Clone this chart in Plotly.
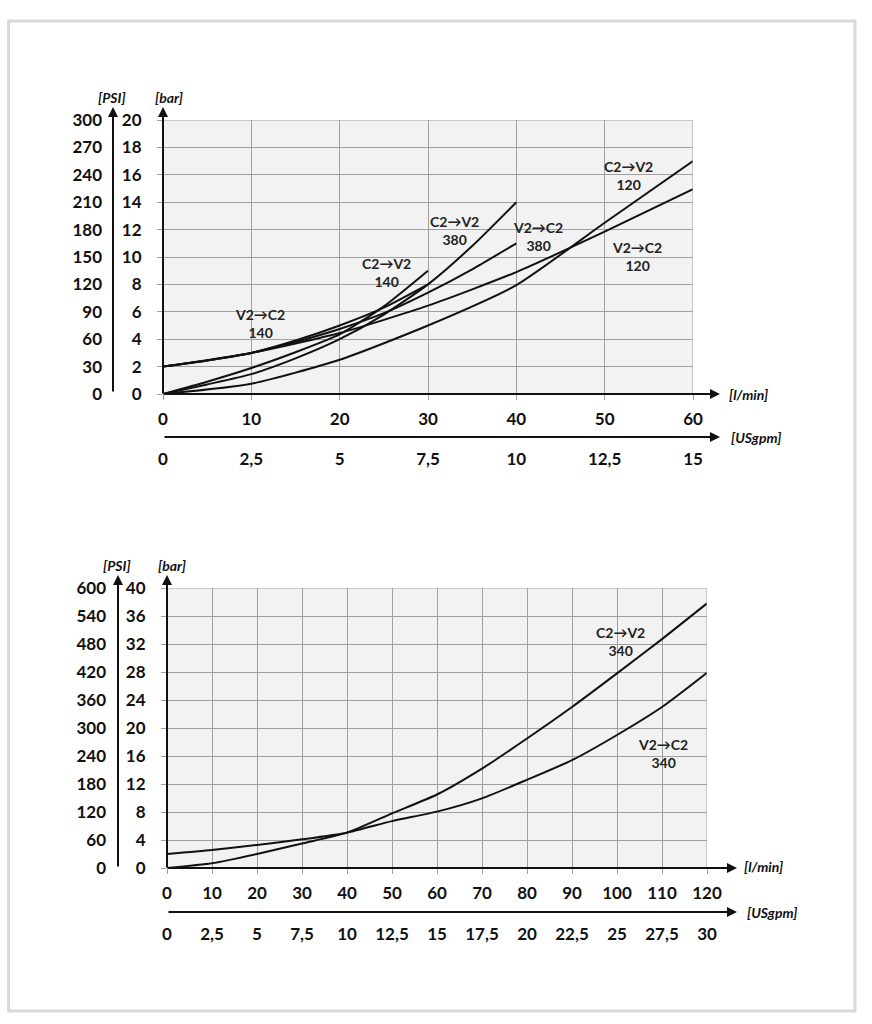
import plotly.graph_objects as go

W, H = 872, 1024

def px(x):
    return x / W

def py(y):
    return 1 - y / H

# ---- data: top chart (pressure drop in bar vs flow in l/min)
top_x5 = [0, 5, 10, 15, 20, 25, 30]
v2c2_140 = [2.0, 2.45, 3.0, 3.9, 5.0, 6.3, 8.0]
c2v2_140 = [0, 0.9, 1.9, 3.05, 4.35, 6.4, 9.0]

top_x40 = [0, 5, 10, 15, 20, 25, 30, 35, 40]
c2v2_380 = [0, 0.7, 1.45, 2.6, 4.0, 5.8, 8.0, 10.8, 14.0]
v2c2_380 = [2.0, 2.45, 3.0, 3.8, 4.75, 5.9, 7.4, 9.1, 11.0]

top_x60 = [0, 10, 20, 30, 40, 50, 60]
v2c2_120 = [2.0, 3.0, 4.45, 6.45, 8.9, 11.85, 14.95]
c2v2_120 = [0, 0.75, 2.5, 5.0, 7.95, 12.5, 17.0]

top_labels = [
    ("V2→C2<br>140", 11.0, 5.15),
    ("C2→V2<br>140", 25.3, 8.85),
    ("C2→V2<br>380", 33.0, 11.95),
    ("V2→C2<br>380", 42.4, 11.5),
    ("C2→V2<br>120", 52.7, 15.95),
    ("V2→C2<br>120", 53.7, 10.05),
]

# ---- data: bottom chart
bot_x = [0, 10, 20, 30, 40, 50, 60, 70, 80, 90, 100, 110, 120]
c2v2_340 = [0, 0.67, 2.0, 3.5, 5.05, 7.8, 10.5, 14.2, 18.5, 23.0, 27.8, 32.7, 37.8]
v2c2_340 = [2.0, 2.57, 3.3, 4.1, 5.05, 6.7, 8.05, 9.95, 12.6, 15.4, 19.0, 23.0, 27.9]

bot_labels = [
    ("C2→V2<br>340", 100.7, 32.4),
    ("V2→C2<br>340", 110.2, 16.4),
]

top_usgpm = [0, 2.5, 5, 7.5, 10, 12.5, 15]
bot_usgpm = [0, 2.5, 5, 7.5, 10, 12.5, 15, 17.5, 20, 22.5, 25, 27.5, 30]

FONT = "Lato"
GRID = "#a0a0a0"
BG = "#f2f2f2"

fig = go.Figure()

line = dict(color="#111111", width=2)
for xs, ys in [(top_x5, v2c2_140), (top_x5, c2v2_140), (top_x40, c2v2_380),
               (top_x40, v2c2_380), (top_x60, v2c2_120), (top_x60, c2v2_120)]:
    fig.add_trace(go.Scatter(x=xs, y=ys, mode="lines", line=dict(line, shape="spline", smoothing=0.6),
                             xaxis="x", yaxis="y", hoverinfo="skip"))
for ys in [c2v2_340, v2c2_340]:
    fig.add_trace(go.Scatter(x=bot_x, y=ys, mode="lines", line=dict(line, shape="spline", smoothing=0.6),
                             xaxis="x2", yaxis="y2", hoverinfo="skip"))

# invisible traces so the secondary scales are drawn
ghost = dict(mode="lines", line=dict(width=0), hoverinfo="skip")
fig.add_trace(go.Scatter(x=[0], y=[0], xaxis="x", yaxis="y3", **ghost))
fig.add_trace(go.Scatter(x=[0], y=[0], xaxis="x3", yaxis="y", **ghost))
fig.add_trace(go.Scatter(x=[0], y=[0], xaxis="x2", yaxis="y4", **ghost))
fig.add_trace(go.Scatter(x=[0], y=[0], xaxis="x4", yaxis="y2", **ghost))

tickfont = dict(family=FONT, size=17, color="#111111", weight="bold")

def main_x(dom, rng, anchor):
    return dict(domain=dom, range=rng, dtick=10, anchor=anchor, showgrid=True, gridcolor=GRID,
                gridwidth=1, zeroline=False, showline=False, ticks="outside", ticklen=5,
                tickcolor=GRID, tickfont=tickfont, ticklabelstandoff=5, fixedrange=True,
                automargin=False)

def main_y(dom, rng, dt, anchor):
    return dict(domain=dom, range=rng, dtick=dt, anchor=anchor, showgrid=True, gridcolor=GRID,
                gridwidth=1, zeroline=False, showline=False, ticks="outside", ticklen=5,
                tickcolor=GRID, tickfont=tickfont, ticklabelstandoff=12, fixedrange=True,
                automargin=False)

def psi_y(over, pos, rng, dt, standoff):
    return dict(overlaying=over, anchor="free", position=pos, range=rng, dtick=dt, showgrid=False,
                zeroline=False, showline=False, ticks="", tickfont=tickfont, ticklabelstandoff=standoff,
                fixedrange=True, automargin=False, autoshift=False)

def gpm_x(over, pos, rng, vals):
    return dict(overlaying=over, anchor="free", position=pos, range=rng, tickvals=vals,
                ticktext=[str(v).replace(".", ",") if v != int(v) else str(int(v)) for v in vals],
                showgrid=False, zeroline=False, showline=False, ticks="", tickfont=tickfont,
                ticklabelstandoff=10, fixedrange=True, side="bottom", automargin=False)

fig.update_layout(
    width=W, height=H,
    margin=dict(l=0, r=0, t=0, b=0, pad=0, autoexpand=False),
    paper_bgcolor="white",
    plot_bgcolor=BG,
    showlegend=False,
    xaxis=main_x([px(163), px(693)], [0, 60], "y"),
    yaxis=main_y([py(394), py(120)], [0, 20], 2, "x"),
    xaxis3=gpm_x("x", py(437), [0, 15], top_usgpm),
    yaxis3=psi_y("y", px(113), [0, 300], 30, 11),
    xaxis2=main_x([px(167), px(707)], [0, 120], "y2"),
    yaxis2=main_y([py(868), py(588)], [0, 40], 4, "x2"),
    xaxis4=gpm_x("x2", py(912), [0, 30], bot_usgpm),
    yaxis4=psi_y("y2", px(118), [0, 600], 60, 12),
)

shapes = []
# outer frame
shapes.append(dict(type="rect", xref="paper", yref="paper", x0=px(8.5), x1=px(855), y0=py(1011), y1=py(21),
                   line=dict(color="#d9d9d9", width=3)))
# plot borders
shapes.append(dict(type="rect", xref="x", yref="y", x0=0, x1=60, y0=0, y1=20, line=dict(color=GRID, width=1)))
shapes.append(dict(type="rect", xref="x2", yref="y2", x0=0, x1=120, y0=0, y1=40, line=dict(color=GRID, width=1)))
fig.update_layout(shapes=shapes)

ann = []

def arrow(x0, y0, x1, y1):
    # arrow from (x0,y0) to head (x1,y1), page pixel coords
    ann.append(dict(xref="paper", yref="paper", x=px(x1), y=py(y1), ax=x0 - x1, ay=y0 - y1,
                    axref="pixel", ayref="pixel", text="", showarrow=True, arrowhead=2,
                    arrowsize=1, arrowwidth=2, arrowcolor="#111111"))

def unit(text, x, y, anchor="center"):
    ann.append(dict(xref="paper", yref="paper", x=px(x), y=py(y), text=text, showarrow=False,
                    xanchor=anchor, yanchor="middle",
                    font=dict(family=FONT, size=14, color="#111111", weight="bold", style="italic")))

# top chart axes
arrow(163, 395, 163, 107)
arrow(113, 393, 113, 107)
arrow(162, 394, 720, 394)
arrow(163, 437, 720, 437)
unit("[PSI]", 112, 97)
unit("[bar]", 169, 97)
unit("[l/min]", 727, 394, "left")
unit("[USgpm]", 729, 437, "left")

# bottom chart axes
arrow(167, 869, 167, 575)
arrow(118, 868, 118, 575)
arrow(166, 868, 737, 868)
arrow(167, 912, 737, 912)
unit("[PSI]", 117, 565)
unit("[bar]", 172, 565)
unit("[l/min]", 742, 866, "left")
unit("[USgpm]", 745, 912, "left")

lab_font = dict(family=FONT, size=14, color="#222222", weight="bold")
for t, x, y in top_labels:
    ann.append(dict(xref="x", yref="y", x=x, y=y, text=t, showarrow=False, font=lab_font, align="center"))
for t, x, y in bot_labels:
    ann.append(dict(xref="x2", yref="y2", x=x, y=y, text=t, showarrow=False, font=lab_font, align="center"))

fig.update_layout(annotations=ann)

fig.write_html("out.html", config={"displayModeBar": False},
               post_script="document.body.style.margin='0';")
